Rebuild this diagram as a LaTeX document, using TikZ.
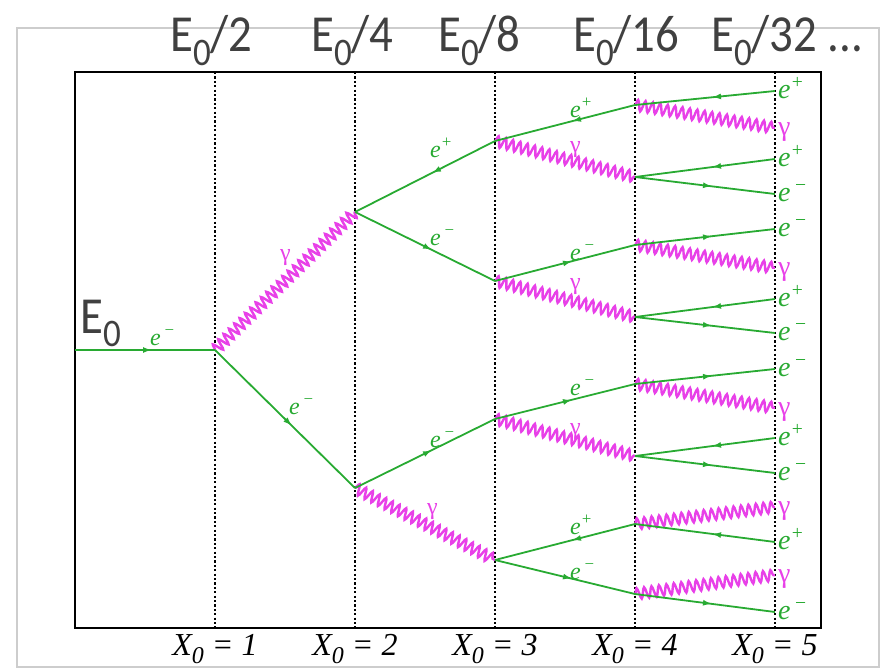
\documentclass[tikz,border=0pt]{standalone}
\usepackage{fontspec}
\usetikzlibrary{decorations.pathmorphing,decorations.markings,arrows.meta}
\newfontfamily\calfont[FakeStretch=0.9]{Carlito}
\newfontfamily\tnrfont{Liberation Serif}
\definecolor{egreen}{RGB}{40,170,50}
\definecolor{gmag}{RGB}{232,64,232}
\definecolor{labgray}{RGB}{64,64,64}
\definecolor{framegray}{RGB}{205,205,205}
\newcommand{\lowsub}[1]{\raisebox{-0.26em}{\scalebox{0.75}{#1}}}
\newcommand{\myep}{e\textsuperscript{+}}
\newcommand{\myem}{e\textsuperscript{\,−}}
\newcommand{\mygam}{γ}
\begin{document}
\begin{tikzpicture}[x=1pt,y=-1pt,
  frameline/.style={draw=framegray,line width=1.5pt},
  boxline/.style={draw=black,line width=2.2pt},
  dotline/.style={draw=black,line width=2.6pt,dash pattern=on 2.2pt off 2.2pt},
  elec/.style={draw=egreen,color=egreen,line width=1.8pt,postaction={decorate},
    decoration={markings,mark=at position 0.55 with {\arrow{Latex[length=9pt,width=6pt]}}}},
  posi/.style={draw=egreen,color=egreen,line width=1.8pt,postaction={decorate},
    decoration={markings,mark=at position 0.55 with {\arrowreversed{Latex[length=9pt,width=6pt]}}}},
  phot/.style={draw=gmag,line width=2.4pt,decorate,
    decoration={snake,segment length=7.5pt,amplitude=5.5pt}},
  toplab/.style={text=labgray,font=\calfont\fontsize{52}{52}\selectfont,inner sep=0pt,anchor=base west},
  xlab/.style={text=black,font=\tnrfont\itshape\fontsize{32}{32}\selectfont,inner sep=0pt,anchor=base},
  ilab/.style={text=egreen,font=\tnrfont\itshape\fontsize{24}{24}\selectfont,inner sep=0pt,anchor=base west},
  iglab/.style={text=gmag,font=\tnrfont\fontsize{24}{24}\selectfont,inner sep=0pt,anchor=base west},
  rlab/.style={text=egreen,font=\tnrfont\itshape\fontsize{28}{28}\selectfont,inner sep=0pt,anchor=base west},
  rglab/.style={text=gmag,font=\tnrfont\fontsize{28}{28}\selectfont,inner sep=0pt,anchor=base west}
]
\useasboundingbox (0,0) rectangle (885,669);
\draw[frameline] (17,28) rectangle (879,667);
\draw[boxline] (75,72) rectangle (821,628);
\foreach \i/\x in {1/215,2/355,3/495,4/635,5/775}{
  \coordinate (t\i) at (\x,72);
  \coordinate (b\i) at (\x,628);
  \draw[dotline] (t\i) -- (b\i);
  \node[xlab] (x\i) at (\x,655) {X\lowsub{0} = \i};
}
% top labels
\node[toplab] (e2) at (170,52) {E\lowsub{0}/2};
\node[toplab] (e4) at (311,52) {E\lowsub{0}/4};
\node[toplab] (e8) at (438,52) {E\lowsub{0}/8};
\node[toplab] (e16) at (573,52) {E\lowsub{0}/16};
\node[toplab] (e32) at (711,52) {E\lowsub{0}/32 ...};
\node[toplab] (e0) at (80,333) {E\lowsub{0}};
% vertices
\coordinate (S) at (75,350);
\coordinate (A) at (215,350);
\coordinate (B) at (355,212);
\coordinate (C) at (355,488);
\coordinate (D) at (495,141);
\coordinate (E) at (495,281);
\coordinate (F) at (495,419);
\coordinate (G) at (495,560);
\coordinate (H1) at (635,105);
\coordinate (H2) at (635,177);
\coordinate (H3) at (635,245);
\coordinate (H4) at (635,317);
\coordinate (H5) at (635,384);
\coordinate (H6) at (635,456);
\coordinate (H7) at (635,524);
\coordinate (H8) at (635,594);
\foreach \k/\y in {1/91,2/128,3/159,4/194,5/229,6/268,7/299,8/333,9/369,10/408,11/438,12/473,13/507,14/542,15/575,16/612}{
  \coordinate (r\k) at (775,\y);
}
% photons
\draw[phot] (A) -- (B);
\draw[phot] (C) -- (G);
\draw[phot] (D) -- (H2);
\draw[phot] (E) -- (H4);
\draw[phot] (F) -- (H6);
\draw[phot] (H1) -- (r2);
\draw[phot] (H3) -- (r6);
\draw[phot] (H5) -- (r10);
\draw[phot] (H7) -- (r13);
\draw[phot] (H8) -- (r15);
% electrons / positrons
\draw[elec] (S) -- (A);
\draw[elec] (A) -- (C);
\draw[posi] (B) -- (D);
\draw[elec] (B) -- (E);
\draw[elec] (C) -- (F);
\draw[posi] (D) -- (H1);
\draw[elec] (E) -- (H3);
\draw[elec] (F) -- (H5);
\draw[posi] (G) -- (H7);
\draw[elec] (G) -- (H8);
\draw[posi] (H1) -- (r1);
\draw[posi] (H2) -- (r3);
\draw[elec] (H2) -- (r4);
\draw[elec] (H3) -- (r5);
\draw[posi] (H4) -- (r7);
\draw[elec] (H4) -- (r8);
\draw[elec] (H5) -- (r9);
\draw[posi] (H6) -- (r11);
\draw[elec] (H6) -- (r12);
\draw[posi] (H7) -- (r14);
\draw[elec] (H8) -- (r16);
% inline labels
\node[ilab] (l1) at (150,345) {\myem};
\node[iglab] (l2) at (280,260) {\mygam};
\node[ilab] (l3) at (289,414) {\myem};
\node[ilab] (l4) at (430,157) {\myep};
\node[ilab] (l5) at (430,245) {\myem};
\node[ilab] (l6) at (570,117) {\myep};
\node[iglab] (l7) at (570,152) {\mygam};
\node[ilab] (l8) at (570,260) {\myem};
\node[iglab] (l9) at (570,289) {\mygam};
\node[ilab] (l10) at (430,447) {\myem};
\node[iglab] (l11) at (427,514) {\mygam};
\node[ilab] (l12) at (570,395) {\myem};
\node[iglab] (l13) at (570,434) {\mygam};
\node[ilab] (l14) at (570,534) {\myep};
\node[ilab] (l15) at (570,579) {\myem};
% right labels
\node[rlab] (q1) at (778,98) {\myep};
\node[rglab] (q2) at (778,135) {\mygam};
\node[rlab] (q3) at (778,166) {\myep};
\node[rlab] (q4) at (778,201) {\myem};
\node[rlab] (q5) at (778,236) {\myem};
\node[rglab] (q6) at (778,275) {\mygam};
\node[rlab] (q7) at (778,306) {\myep};
\node[rlab] (q8) at (778,340) {\myem};
\node[rlab] (q9) at (778,376) {\myem};
\node[rglab] (q10) at (778,415) {\mygam};
\node[rlab] (q11) at (778,445) {\myep};
\node[rlab] (q12) at (778,480) {\myem};
\node[rglab] (q13) at (778,514) {\mygam};
\node[rlab] (q14) at (778,549) {\myep};
\node[rglab] (q15) at (778,582) {\mygam};
\node[rlab] (q16) at (778,619) {\myem};
\end{tikzpicture}
\end{document}
